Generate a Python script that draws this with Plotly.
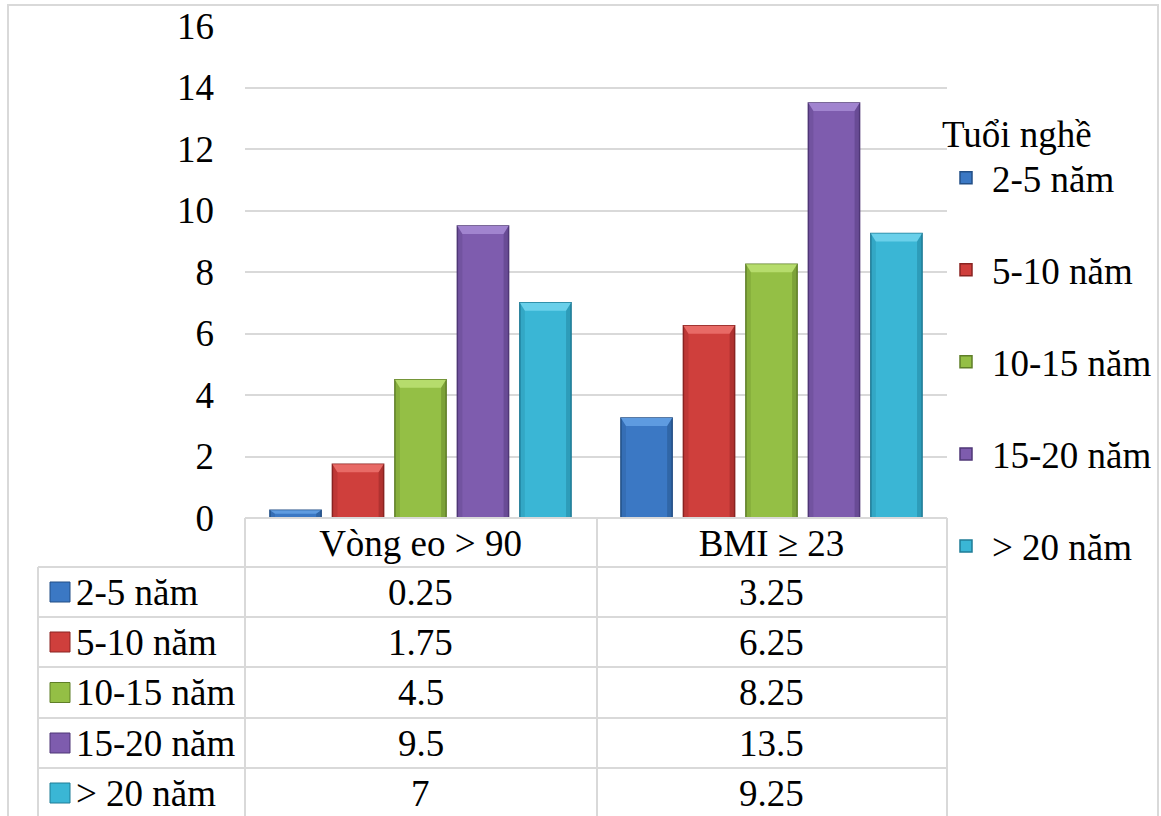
import plotly.graph_objects as go

# Data
categories = ["Vòng eo > 90", "BMI ≥ 23"]
series_names = ["2-5 năm", "5-10 năm", "10-15 năm", "15-20 năm", "> 20 năm"]
vong_eo = [0.25, 1.75, 4.5, 9.5, 7]
bmi = [3.25, 6.25, 8.25, 13.5, 9.25]
y_ticks = [0, 2, 4, 6, 8, 10, 12, 14, 16]
legend_title = "Tuổi nghề"

# Styling
fills = ["#3b78c4", "#cf3f3c", "#94bf45", "#7e5cae", "#3ab6d5"]
tops = ["#5e9be0", "#e86a66", "#b6dc6c", "#a184cf", "#6ad0ea"]
edges = ["#234f86", "#8a2422", "#5f7f28", "#4f3777", "#1f7c96"]
FONT = "Liberation Serif, Times New Roman, serif"
FS = 37
GRID = "#d9d9d9"
BARGAP, GROUPGAP = 0.11, 0.18

W, H = 1161, 816
ML, MR, MT, MB = 245, 214, 26, 298
PW, PH = W - ML - MR, H - MT - MB
Y_MAX = 16


def fx(px):
    return (px - ML) / PW


def fy(py):
    return (H - MB - py) / PH


fig = go.Figure()
for i, name in enumerate(series_names):
    fig.add_trace(go.Bar(
        x=categories,
        y=[vong_eo[i], bmi[i]],
        name=name,
        legendgroup=name,
        marker=dict(color=fills[i], line=dict(color=edges[i], width=1.5)),
    ))

shapes = []

# bevelled top and side facets on each bar, placed from the same bar geometry
n = len(series_names)
slot = (1 - BARGAP) / n
half_w = slot * (1 - GROUPGAP) / 2
cat_px = PW / len(categories)
unit_px = PH / Y_MAX
for c, vals in enumerate([vong_eo, bmi]):
    for i in range(n):
        v = vals[i]
        cx = c + (i - (n - 1) / 2) * slot
        x0, x1 = cx - half_w, cx + half_w
        dx = 5 / cat_px
        dy = min(8 / unit_px, v * 0.45)
        shapes.append(dict(
            type="path", xref="x", yref="y", line=dict(width=0), fillcolor=tops[i],
            path=f"M{x0},{v} L{x1},{v} L{x1 - dx},{v - dy} L{x0 + dx},{v - dy} Z"))
        shapes.append(dict(
            type="path", xref="x", yref="y", line=dict(width=0), fillcolor=edges[i],
            opacity=0.45,
            path=f"M{x1},{v} L{x1 - dx},{v - dy} L{x1 - dx},0 L{x1},0 Z"))
        shapes.append(dict(
            type="path", xref="x", yref="y", line=dict(width=0), fillcolor=edges[i],
            opacity=0.25,
            path=f"M{x0},{v} L{x0 + dx},{v - dy} L{x0 + dx},0 L{x0},0 Z"))

line = dict(color=GRID, width=2)
# data table grid
table_top, table_bottom = 518, 830
row_lines = [567, 617, 667, 718, 768]
shapes.append(dict(type="line", xref="paper", yref="paper",
                   x0=fx(245), x1=fx(947), y0=fy(table_top), y1=fy(table_top), line=line))
for ry in row_lines:
    shapes.append(dict(type="line", xref="paper", yref="paper",
                       x0=fx(38), x1=fx(947), y0=fy(ry), y1=fy(ry), line=line))
for vx in [245, 597, 947]:
    shapes.append(dict(type="line", xref="paper", yref="paper",
                       x0=fx(vx), x1=fx(vx), y0=fy(table_top), y1=fy(table_bottom), line=line))
shapes.append(dict(type="line", xref="paper", yref="paper",
                   x0=fx(38), x1=fx(38), y0=fy(row_lines[0]), y1=fy(table_bottom), line=line))
# chart border
shapes.append(dict(type="rect", xref="paper", yref="paper",
                   x0=fx(8), x1=fx(1158), y0=fy(5), y1=fy(840),
                   line=dict(color=GRID, width=2), fillcolor="rgba(0,0,0,0)", layer="below"))

annotations = []
row_centers = [(row_lines[k] + (row_lines[k + 1] if k + 1 < len(row_lines) else 818)) / 2
               for k in range(len(row_lines))]
for i, name in enumerate(series_names):
    cy = row_centers[i]
    shapes.append(dict(type="rect", xref="paper", yref="paper",
                       x0=fx(50), x1=fx(70), y0=fy(cy - 10), y1=fy(cy + 10),
                       fillcolor=fills[i], line=dict(color=edges[i], width=1)))
    annotations.append(dict(x=fx(74), y=fy(cy), xref="paper", yref="paper",
                            text=name, showarrow=False, xanchor="left", yanchor="middle",
                            font=dict(family=FONT, size=FS, color="black")))
    for c, vals in enumerate([vong_eo, bmi]):
        annotations.append(dict(x=categories[c], y=fy(cy), xref="x", yref="paper",
                                text=f"{vals[i]:g}", showarrow=False,
                                xanchor="center", yanchor="middle",
                                font=dict(family=FONT, size=FS, color="black")))

fig.update_layout(
    width=W, height=H,
    margin=dict(l=ML, r=MR, t=MT, b=MB, autoexpand=False),
    paper_bgcolor="white", plot_bgcolor="white",
    font=dict(family=FONT, size=FS, color="black"),
    barmode="group", bargap=BARGAP, bargroupgap=GROUPGAP,
    showlegend=True,
    legend=dict(
        x=fx(940), y=fy(99), xanchor="left", yanchor="top",
        title=dict(text=legend_title, font=dict(family=FONT, size=FS)),
        font=dict(family=FONT, size=FS, color="black"),
        tracegroupgap=41, itemwidth=42,
        bgcolor="rgba(0,0,0,0)",
    ),
    xaxis=dict(type="category", showgrid=False, showline=False, ticks="", automargin=False,
               tickfont=dict(family=FONT, size=FS), ticklabelstandoff=0),
    yaxis=dict(range=[0, Y_MAX], tickvals=y_ticks, showgrid=True, gridcolor=GRID,
               gridwidth=2, zeroline=False, showline=False, ticks="", automargin=False,
               ticklabelstandoff=30, tickfont=dict(family=FONT, size=FS)),
    shapes=shapes,
    annotations=annotations,
)

fig.write_html("out.html")
